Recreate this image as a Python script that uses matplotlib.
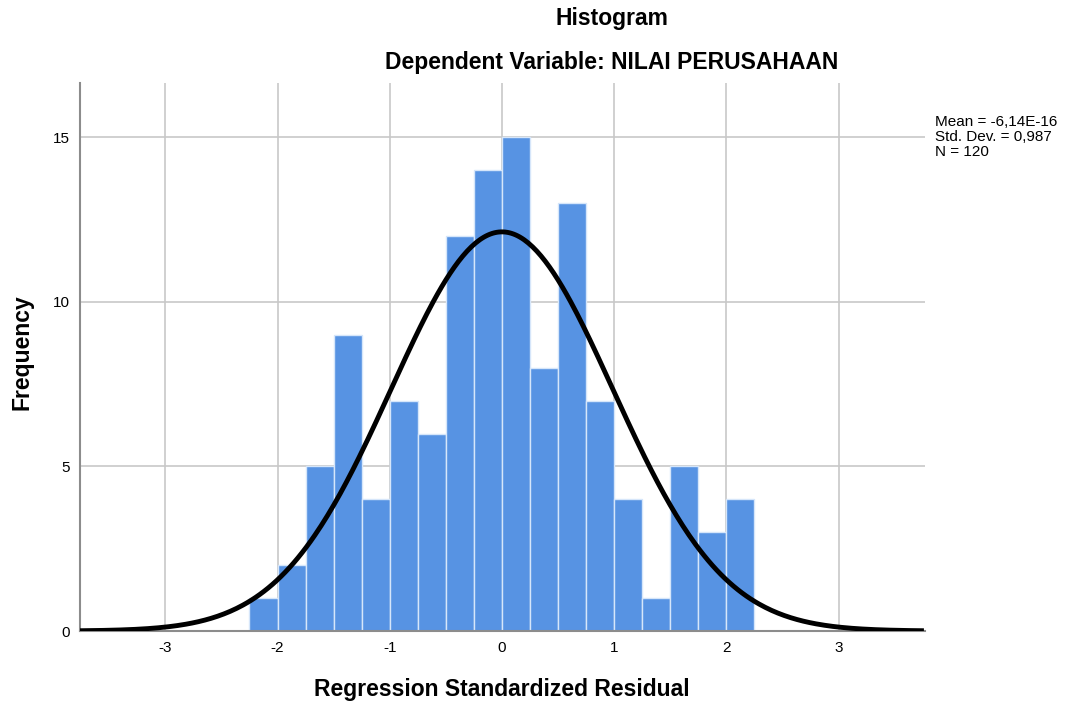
import numpy as np
import matplotlib.pyplot as plt

plt.rcParams['font.family'] = ['Liberation Sans', 'DejaVu Sans']
plt.rcParams['axes.unicode_minus'] = False

# histogram bins (bin width 0.25) and counts
bin_edges = [-2.25, -2.0, -1.75, -1.5, -1.25, -1.0, -0.75, -0.5, -0.25, 0.0,
             0.25, 0.5, 0.75, 1.0, 1.25, 1.5, 1.75, 2.0, 2.25]
counts = [1, 2, 5, 9, 4, 7, 6, 12, 14, 15, 8, 13, 7, 4, 1, 5, 3, 4]
mean = -6.14e-16
std = 0.987
n = 120
xticks = [-3, -2, -1, 0, 1, 2, 3]
yticks = [0, 5, 10, 15]

fig = plt.figure(figsize=(10.71, 7.09), dpi=100)
ax = fig.add_axes([0.0747, 0.110, 0.789, 0.773])

widths = np.diff(bin_edges)
ax.bar(bin_edges[:-1], counts, width=widths, align='edge', color='#5793e3',
       edgecolor='#d6e6fa', linewidth=1.0, zorder=2)

xs = np.linspace(-3.76, 3.76, 400)
bw = widths[0]
pdf = n * bw / (std * np.sqrt(2 * np.pi)) * np.exp(-0.5 * ((xs - mean) / std) ** 2)
ax.plot(xs, pdf, color='black', lw=3.5, zorder=3, solid_capstyle='butt')

ax.set_xlim(-3.76, 3.77)
ax.set_ylim(0, 16.65)
ax.set_xticks(xticks)
ax.set_yticks(yticks)
ax.tick_params(length=0, labelsize=11, pad=7)
ax.grid(True, color='#c8c8c8', lw=1.2, zorder=0)
ax.set_axisbelow(True)
for s in ['top', 'right']:
    ax.spines[s].set_visible(False)
for s in ['left', 'bottom']:
    ax.spines[s].set_color('#8c8c8c')
    ax.spines[s].set_linewidth(1.5)

fig.text(0.571, 0.974, 'Histogram', ha='center', va='center', fontsize=16.5, fontweight='bold')
fig.text(0.571, 0.912, 'Dependent Variable: NILAI PERUSAHAAN', ha='center', va='center',
         fontsize=16.5, fontweight='bold')
fig.text(0.469, 0.027, 'Regression Standardized Residual', ha='center', va='center',
         fontsize=16.5, fontweight='bold')
fig.text(0.021, 0.503, 'Frequency', ha='center', va='center', rotation=90,
         fontsize=16.5, fontweight='bold')
fig.text(0.873, 0.838, 'Mean = -6,14E-16\nStd. Dev. = 0,987\nN = 120', ha='left', va='top',
         fontsize=11, linespacing=1.1)

fig.savefig('out.png', dpi=100)
